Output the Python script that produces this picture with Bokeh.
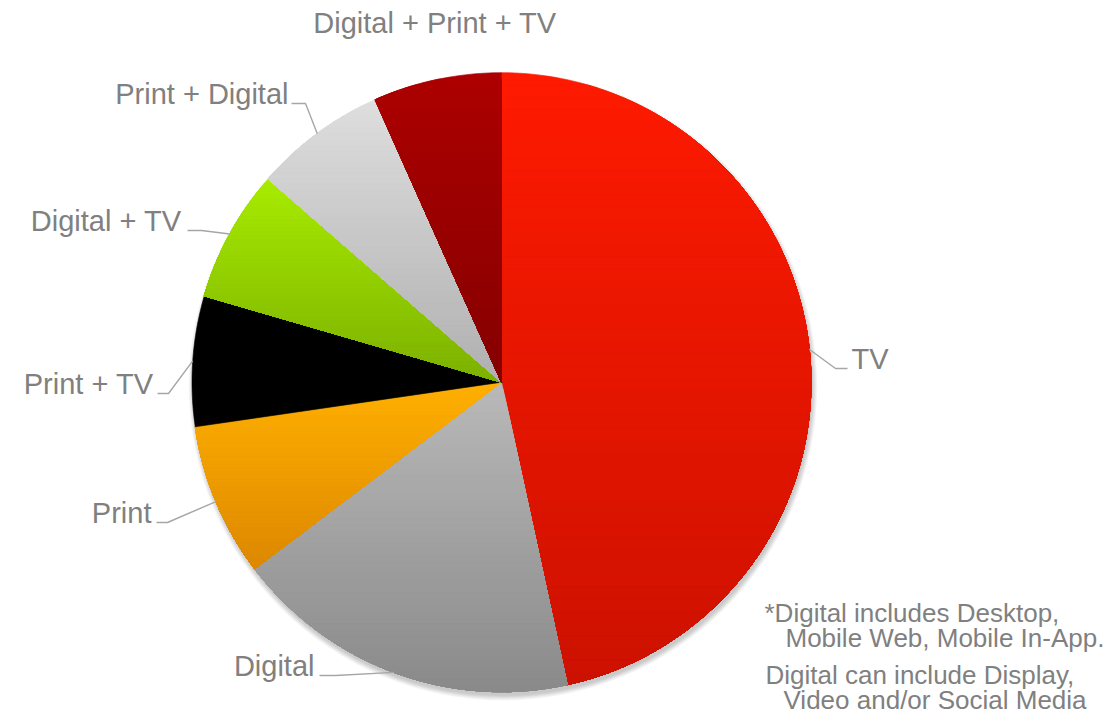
import math
from bokeh.plotting import figure
from bokeh.models import Range1d, ColumnDataSource
from bokeh.core.properties import value
from bokeh.embed import file_html
from bokeh.resources import INLINE

# ---------------- data ----------------
categories = ["TV", "Digital", "Print", "Print + TV", "Digital + TV",
              "Print + Digital", "Digital + Print + TV"]
shares = [46.6, 18.1, 8.0, 6.8, 6.9, 6.9, 6.7]
top_colors = ["#FF1A00", "#B9B9B9", "#FFB000", "#000000", "#A8EC00", "#DEDEDE", "#AD0000"]
bottom_colors = ["#CC1100", "#8A8A8A", "#DD8800", "#000000", "#7CB000", "#B0B0B0", "#850000"]
footnote_lines = ["*Digital includes Desktop,", "Mobile Web, Mobile In-App.",
                  "Digital can include Display,", "Video and/or Social Media"]

# ---------------- layout ----------------
W, H = 1117, 725
def px(X):
    return X
def py(Y):
    return H - Y

CX, CY, R = px(501), py(381.7), 309.5
FONT = value("Liberation Sans")
TXT = "#808080"

# label layout (page pixel coords): text anchor, alignment, elbow point, line end
label_layout = {
    "TV":                   dict(tx=851, ty=368, align="left",   elbow=(835, 368), end=(847, 368)),
    "Digital":              dict(tx=314, ty=675, align="right",  elbow=(335, 675), end=(319, 675)),
    "Print":                dict(tx=151, ty=522, align="right",  elbow=(167, 522), end=(156, 522)),
    "Print + TV":           dict(tx=153, ty=393, align="right",  elbow=(168, 393), end=(157, 393)),
    "Digital + TV":         dict(tx=181, ty=230, align="right",  elbow=(201, 230), end=(187, 230)),
    "Print + Digital":      dict(tx=288, ty=103, align="right",  elbow=(305, 103), end=(291, 103)),
    "Digital + Print + TV": dict(tx=434.5, ty=32, align="center", elbow=None, end=None),
}
footnote_pos = [(764, 621.7), (785, 646.7), (765, 683), (783, 708)]

p = figure(width=W, height=H, x_range=Range1d(0, W), y_range=Range1d(0, H),
           output_backend="svg", toolbar_location=None, min_border=0,
           x_axis_location=None, y_axis_location=None)
p.grid.grid_line_color = None
p.outline_line_color = None
p.background_fill_color = "white"
p.border_fill_color = "white"

# soft drop shadow
for k in range(7):
    p.circle(x=[CX + 1.5], y=[CY - 4], radius=R + k * 0.8,
             fill_color="black", fill_alpha=0.03, line_color=None)


def hex2rgb(h):
    h = h.lstrip("#")
    return tuple(int(h[i:i + 2], 16) for i in (0, 2, 4))


def mix(c0, c1, f):
    a, b = hex2rgb(c0), hex2rgb(c1)
    return "#%02x%02x%02x" % tuple(int(round(a[i] + (b[i] - a[i]) * f)) for i in range(3))


def slice_poly(a0, a1):
    n = max(8, int((a1 - a0) / 0.8))
    pts = [(CX, CY)]
    for i in range(n + 1):
        a = math.radians(a0 + (a1 - a0) * i / n)
        pts.append((CX + R * math.sin(a), CY + R * math.cos(a)))
    return pts


def clip_below(pts, t):
    out = []
    n = len(pts)
    for i in range(n):
        p1, p2 = pts[i], pts[(i + 1) % n]
        in1, in2 = p1[1] <= t, p2[1] <= t
        if in1:
            out.append(p1)
        if in1 != in2:
            f = (t - p1[1]) / (p2[1] - p1[1])
            out.append((p1[0] + f * (p2[0] - p1[0]), t))
    return out


total = sum(shares)
xs, ys, cols = [], [], []
angles = []
acc = 0.0
for cat, s, c0, c1 in zip(categories, shares, top_colors, bottom_colors):
    a0 = acc / total * 360.0
    acc += s
    a1 = acc / total * 360.0
    angles.append((a0, a1))
    pts = slice_poly(a0, a1)
    ytop = max(q[1] for q in pts)
    ybot = min(q[1] for q in pts)
    N = 1 if c0 == c1 else 50
    for k in range(N):
        t = ytop - (ytop - ybot) * k / N + (0.01 if k == 0 else 0)
        poly = clip_below(pts, t)
        if len(poly) < 3:
            continue
        col = mix(c0, c1, (k + 0.5) / N)
        xs.append([q[0] for q in poly])
        ys.append([q[1] for q in poly])
        cols.append(col)

p.patches(xs="xs", ys="ys", fill_color="c", line_color="c", line_width=0.6,
          source=ColumnDataSource(dict(xs=xs, ys=ys, c=cols)))

# leader lines
lx, ly = [], []
for cat, (a0, a1) in zip(categories, angles):
    lay = label_layout[cat]
    if lay["elbow"] is None:
        continue
    am = math.radians((a0 + a1) / 2)
    sx, sy = CX + R * math.sin(am), CY + R * math.cos(am)
    ex, ey = lay["elbow"]
    nx, ny = lay["end"]
    lx.append([sx, px(ex), px(nx)])
    ly.append([sy, py(ey), py(ny)])
p.multi_line(xs=lx, ys=ly, line_color="#A6A6A6", line_width=1.4)

# category labels
for cat in categories:
    lay = label_layout[cat]
    p.text(x=[px(lay["tx"])], y=[py(lay["ty"])], text=[cat],
           text_font=FONT, text_font_size="29px", text_color=TXT,
           text_align=lay["align"], text_baseline="alphabetic", y_offset=-10)

# footnote
for line, (fx, fy) in zip(footnote_lines, footnote_pos):
    p.text(x=[px(fx)], y=[py(fy)], text=[line],
           text_font=FONT, text_font_size="26px", text_color=TXT,
           text_align="left", text_baseline="alphabetic", y_offset=-9)

open("out.html", "w").write(file_html(p, INLINE))
